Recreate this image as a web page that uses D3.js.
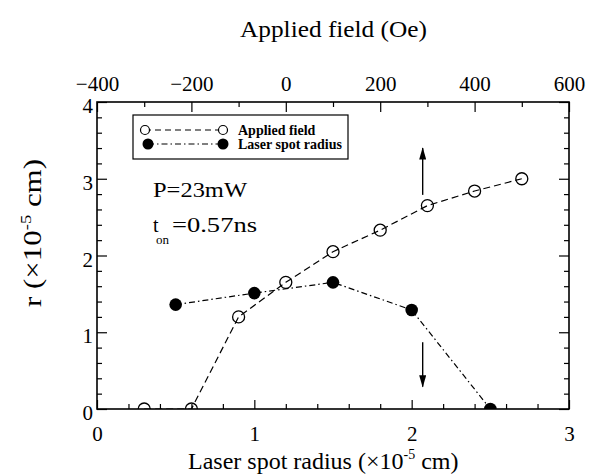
<!DOCTYPE html>
<html>
<head>
<meta charset="utf-8">
<script src="https://cdn.jsdelivr.net/npm/d3@7"></script>
<style>
  body { margin: 0; background: #fff; }
  svg text { font-family: "Liberation Serif", "Times New Roman", serif; fill: #000; }
</style>
</head>
<body>
<svg width="589" height="474"></svg>
<script>
// applied field series (top axis, Oe)
const fieldOe = [-300, -200, -100, 0, 100, 200, 300, 400, 500];
const fieldR = [0, 0, 1.2, 1.65, 2.05, 2.33, 2.65, 2.84, 3.0];
// laser spot radius series (bottom axis, x10^-5 cm)
const spotRadius = [0.5, 1.0, 1.5, 2.0, 2.5];
const spotR = [1.36, 1.51, 1.65, 1.29, 0];

const bottomTicks = [0, 1, 2, 3];
const topTicks = [-400, -200, 0, 200, 400, 600];
const leftTicks = [0, 1, 2, 3, 4];

// arrows: x in bottom-axis units, from/to in r units
const arrows = [
  { x: 2.07, from: 2.79, to: 3.40 },
  { x: 2.07, from: 0.87, to: 0.29 }
];

var svg = d3.select("svg");
svg.append("rect").attr("width", 589).attr("height", 474).attr("fill", "#fff");

// plot box (note: "top" is reserved on window, so use pl/pr/pt/pb)
var pl = 97, pr = 569, pt = 102, pb = 409;

var x = d3.scaleLinear().domain([0, 3]).range([pl, pr]);
var xTop = d3.scaleLinear().domain([-400, 600]).range([pl, pr]);
var y = d3.scaleLinear().domain([0, 4]).range([pb, pt]);

var defs = svg.append("defs");
defs.append("clipPath").attr("id", "plotclip")
  .append("rect").attr("x", pl).attr("y", pt)
  .attr("width", pr - pl).attr("height", pb - pt);
defs.append("marker").attr("id", "head")
  .attr("viewBox", "0 0 14 8").attr("refX", 13).attr("refY", 4)
  .attr("markerWidth", 14).attr("markerHeight", 7)
  .attr("markerUnits", "userSpaceOnUse").attr("orient", "auto")
  .append("path").attr("d", "M0,0 L14,4 L0,8 Z").attr("fill", "#000");

function minorVals(lo, hi, step, skip) {
  return d3.range(lo, hi + step / 2, step).filter(function(v) {
    return !skip.some(function(s) { return Math.abs(s - v) < 1e-6; });
  });
}

function styleAxis(g) {
  g.select(".domain").remove();
  g.selectAll("line").attr("stroke", "#000").attr("stroke-width", 1.2);
  g.selectAll("text").style("font-size", "21px");
}

// bottom axis
svg.append("g").attr("transform", "translate(0," + pb + ")")
  .call(d3.axisBottom(x).tickValues(minorVals(0, 3, 0.2, bottomTicks)).tickSize(-5).tickFormat(""))
  .call(styleAxis);
svg.append("g").attr("transform", "translate(0," + pb + ")")
  .call(d3.axisBottom(x).tickValues(bottomTicks).tickSize(-9).tickPadding(17).tickFormat(d3.format("d")))
  .call(styleAxis);

// top axis
svg.append("g").attr("transform", "translate(0," + pt + ")")
  .call(d3.axisTop(xTop).tickValues(minorVals(-400, 600, 100, topTicks)).tickSize(-5).tickFormat(""))
  .call(styleAxis);
svg.append("g").attr("transform", "translate(0," + pt + ")")
  .call(d3.axisTop(xTop).tickValues(topTicks).tickSize(-10).tickPadding(11).tickFormat(d3.format("d")))
  .call(styleAxis);

// left axis
svg.append("g").attr("transform", "translate(" + pl + ",0)")
  .call(d3.axisLeft(y).tickValues(minorVals(0, 4, 0.2, leftTicks)).tickSize(-5).tickFormat(""))
  .call(styleAxis);
svg.append("g").attr("transform", "translate(" + pl + ",0)")
  .call(d3.axisLeft(y).tickValues(leftTicks).tickSize(-10).tickPadding(4).tickFormat(d3.format("d")))
  .call(styleAxis)
  .selectAll("text").attr("dy", "0.5em");

// right axis
svg.append("g").attr("transform", "translate(" + pr + ",0)")
  .call(d3.axisRight(y).tickValues(minorVals(0, 4, 0.2, leftTicks)).tickSize(-5).tickFormat(""))
  .call(styleAxis);
svg.append("g").attr("transform", "translate(" + pr + ",0)")
  .call(d3.axisRight(y).tickValues(leftTicks).tickSize(-10).tickFormat(""))
  .call(styleAxis);

// frame
svg.append("rect").attr("x", pl).attr("y", pt)
  .attr("width", pr - pl).attr("height", pb - pt)
  .attr("fill", "none").attr("stroke", "#000").attr("stroke-width", 1.6);

var plot = svg.append("g").attr("clip-path", "url(#plotclip)");

var fieldData = fieldOe.map(function(d, i) { return [d, fieldR[i]]; });
var spotData = spotRadius.map(function(d, i) { return [d, spotR[i]]; });

plot.append("path").datum(spotData)
  .attr("d", d3.line().x(function(d) { return x(d[0]); }).y(function(d) { return y(d[1]); }))
  .attr("fill", "none").attr("stroke", "#000").attr("stroke-width", 1.2)
  .attr("stroke-dasharray", "6,3,1.5,3");

plot.append("path").datum(fieldData)
  .attr("d", d3.line().x(function(d) { return xTop(d[0]); }).y(function(d) { return y(d[1]); }))
  .attr("fill", "none").attr("stroke", "#000").attr("stroke-width", 1.2)
  .attr("stroke-dasharray", "7,4");

plot.selectAll(".spot").data(spotData).enter().append("circle")
  .attr("cx", function(d) { return x(d[0]); })
  .attr("cy", function(d) { return y(d[1]); })
  .attr("r", 6.3).attr("fill", "#000");

plot.selectAll(".field").data(fieldData).enter().append("circle")
  .attr("cx", function(d) { return xTop(d[0]); })
  .attr("cy", function(d) { return y(d[1]); })
  .attr("r", 6).attr("fill", "none").attr("stroke", "#000").attr("stroke-width", 1.3);

// arrows
svg.selectAll(".arrow").data(arrows).enter().append("line")
  .attr("x1", function(d) { return x(d.x); }).attr("x2", function(d) { return x(d.x); })
  .attr("y1", function(d) { return y(d.from); }).attr("y2", function(d) { return y(d.to); })
  .attr("stroke", "#000").attr("stroke-width", 1.4)
  .attr("marker-end", "url(#head)");

// legend
var lg = svg.append("g");
lg.append("rect").attr("x", 133).attr("y", 115).attr("width", 215).attr("height", 44)
  .attr("fill", "#fff").attr("stroke", "#000").attr("stroke-width", 1.2);
lg.append("line").attr("x1", 145).attr("x2", 223).attr("y1", 130).attr("y2", 130)
  .attr("stroke", "#000").attr("stroke-width", 1.1).attr("stroke-dasharray", "6,4");
lg.selectAll(".lo").data([145, 223]).enter().append("circle")
  .attr("cx", function(d) { return d; }).attr("cy", 130).attr("r", 4.5)
  .attr("fill", "#fff").attr("stroke", "#000").attr("stroke-width", 1.2);
lg.append("line").attr("x1", 148).attr("x2", 223).attr("y1", 144).attr("y2", 144)
  .attr("stroke", "#000").attr("stroke-width", 1.1).attr("stroke-dasharray", "6,3,1.5,3");
lg.selectAll(".lf").data([148, 223]).enter().append("circle")
  .attr("cx", function(d) { return d; }).attr("cy", 144).attr("r", 5.5).attr("fill", "#000");
lg.append("text").attr("x", 238).attr("y", 135).style("font-size", "14px").style("font-weight", "bold")
  .text("Applied field");
lg.append("text").attr("x", 238).attr("y", 149).style("font-size", "14px").style("font-weight", "bold")
  .attr("textLength", 104).attr("lengthAdjust", "spacingAndGlyphs")
  .text("Laser spot radius");

// annotation
svg.append("text").attr("x", 153).attr("y", 197).style("font-size", "20px")
  .attr("textLength", 94).attr("lengthAdjust", "spacingAndGlyphs").text("P=23mW");
svg.append("text").attr("x", 153).attr("y", 232).style("font-size", "20px").text("t");
svg.append("text").attr("x", 156).attr("y", 244).style("font-size", "13px").text("on");
svg.append("text").attr("x", 172).attr("y", 232).style("font-size", "20px")
  .attr("textLength", 85).attr("lengthAdjust", "spacingAndGlyphs").text("=0.57ns");

// titles
svg.append("text").attr("x", 240).attr("y", 37).style("font-size", "23px")
  .attr("textLength", 187).attr("lengthAdjust", "spacingAndGlyphs")
  .text("Applied field (Oe)");

var xt = svg.append("text").attr("x", 188).attr("y", 469).style("font-size", "24px");
xt.append("tspan").text("Laser spot radius (\u00d710");
xt.append("tspan").attr("dy", -10).style("font-size", "14px").text("-5");
xt.append("tspan").attr("dy", 10).text(" cm)");

var yt = svg.append("text").attr("transform", "translate(41,307) rotate(-90)").style("font-size", "25px")
  .attr("textLength", 148).attr("lengthAdjust", "spacingAndGlyphs");
yt.append("tspan").text("r (\u00d710");
yt.append("tspan").attr("dy", -10).style("font-size", "15px").text("-5");
yt.append("tspan").attr("dy", 10).text(" cm)");
</script>
</body>
</html>
